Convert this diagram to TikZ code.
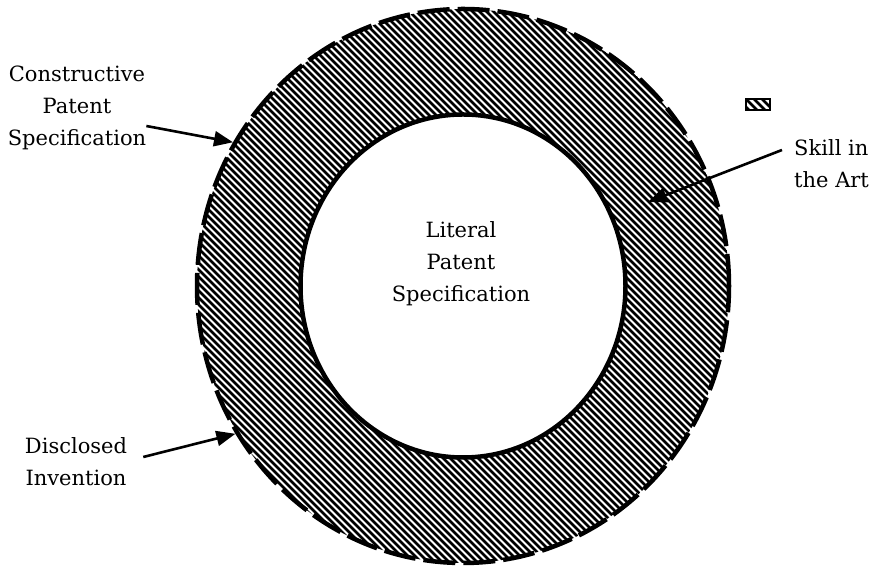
\documentclass[tikz,border=0pt]{standalone}
\usepackage{fontspec}
\setmainfont{DejaVu Serif}
\usetikzlibrary{arrows.meta,positioning,shapes.geometric}
\tikzset{
  lbl/.style={font=\fontsize{21}{32}\selectfont,align=center,inner sep=0pt},
  hatchline/.style={line width=2.6pt},
  arr/.style={-{Triangle[length=19pt,width=15pt]},line width=2.6pt},
}
\begin{document}
\begin{tikzpicture}[x=1pt,y=1pt]
\fill[white] (0,0) rectangle (879,569);
\useasboundingbox (0,0) rectangle (879,569);
% hatching of the ring
\begin{scope}
  \clip (463,283) ellipse [x radius=266,y radius=277];
  \foreach \k in {-400,-393,...,900}
    \draw[hatchline] (\k,569) -- ++(569,-569);
\end{scope}
\node[ellipse,draw,dash pattern=on 32pt off 8pt,line width=4.5pt,
  minimum width=532pt,minimum height=554pt] (outer) at (463,283) {};
\node[ellipse,draw,fill=white,line width=4.5pt,
  minimum width=325pt,minimum height=343pt] (inner) at (463,283) {};
\node[lbl] (lit) at (461,305) {Literal\\Patent\\Specification};
% labels round the ring
\node[lbl] (cps) at (77,461) {Constructive\\Patent\\Specification};
\node[lbl] (dis) at (76,107) {Disclosed\\Invention};
\node[lbl,align=left,anchor=west] (skill) at (794,405) {Skill in\\the Art};
% legend key
\begin{scope}
  \clip (746,458.5) rectangle (770,469.5);
  \foreach \k in {730,738,...,780}
    \draw[hatchline] (\k,470) -- ++(12,-12);
\end{scope}
\node[draw,line width=2pt,inner sep=0pt,minimum width=24pt,minimum height=11pt] (key) at (758,464) {};
\coordinate (skilltip) at (648,367);
\draw[arr] ([yshift=-18pt]cps.east) -- (outer.148);
\draw[arr] ([xshift=16pt,yshift=5pt]dis.east) -- (outer.213);
\draw[arr] ([xshift=-12pt,yshift=14pt]skill.west) -- (skilltip);
\end{tikzpicture}
\end{document}
